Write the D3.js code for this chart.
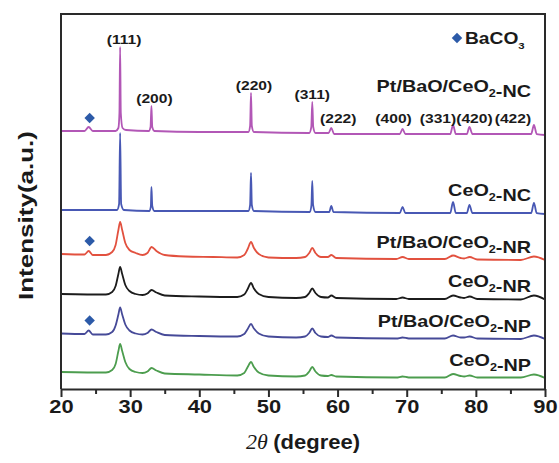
<!DOCTYPE html>
<html>
<head>
<meta charset="utf-8">
<script src="https://cdn.jsdelivr.net/npm/d3@7"></script>
<style>
    body { margin: 0; background: #fff; }
    text { font-family: "Liberation Sans", Arial, sans-serif; font-weight: bold; fill: #1a1a1a; }
</style>
</head>
<body>
<div id="chart"></div>
<script>
// peak positions (2theta) and reflection names
const hklNames = ["(111)", "(200)", "(220)", "(311)", "(222)", "(400)", "(331)", "(420)", "(422)"];
const hklAngles = [28.55, 33.08, 47.48, 56.34, 59.09, 69.4, 76.7, 79.07, 88.4];
const baco3Angle = 24.0;

const seriesNames = ["Pt/BaO/CeO2-NC", "CeO2-NC", "Pt/BaO/CeO2-NR", "CeO2-NR", "Pt/BaO/CeO2-NP", "CeO2-NP"];
const seriesColors = ["#b257b6", "#4858b4", "#e2513f", "#1c1c1c", "#464a98", "#4c9d4e"];
const seriesOffsets = [258, 179, 135, 95, 55.5, 17];
const hasBaCO3 = [true, false, true, false, true, false];

// [2theta, intensity above offset]
const ptNC = [[20,0],[23.4,0],[24.0,4],[24.6,0],[27.9,0],[28.3,3],[28.45,18],[28.55,84],[28.65,18],[28.9,3],[29.4,1],[32.7,0],[32.95,4],[33.08,25],[33.2,4],[33.5,0],[40,-1],[47.1,-1],[47.35,5],[47.48,38],[47.6,5],[47.9,-1],[55.9,-2],[56.2,4],[56.34,29],[56.48,4],[56.8,-2],[58.7,-2],[59.09,3],[59.5,-3],[69.0,-3],[69.4,2],[69.8,-3],[76.3,-3],[76.7,6],[77.1,-3],[78.7,-3],[79.07,4],[79.5,-3],[88.0,-3],[88.4,6],[88.8,-3],[90,-4]];
const ceNC = [[20,0],[28.1,0],[28.4,6],[28.55,77],[28.7,6],[29.1,0],[32.8,-1],[33.0,4],[33.08,23],[33.2,4],[33.5,-1],[47.1,-1],[47.35,5],[47.48,37],[47.6,5],[47.9,-1],[56.0,-2],[56.22,5],[56.34,29],[56.46,5],[56.8,-2],[58.8,-2],[59.09,4],[59.4,-2],[69.0,-3],[69.4,3],[69.8,-3],[76.3,-3],[76.7,8],[77.1,-3],[78.7,-3],[79.07,5],[79.5,-3],[88.0,-3],[88.4,7],[88.8,-3],[90,-4]];
const ptNR = [[20,0],[23.4,-0.5],[24.0,3],[24.6,-1],[26.5,-1],[27.4,2],[27.9,9],[28.3,24],[28.55,32],[28.85,24],[29.3,11],[29.9,4],[30.8,1],[31.8,-1],[32.5,1],[33.1,7],[33.8,3],[35,-1],[38,-2.5],[42,-3],[45.5,-3.5],[46.5,-1],[47.0,5],[47.48,12],[47.9,6],[48.6,0],[50,-3.5],[54,-4],[55.3,-3],[55.9,1],[56.34,6],[56.8,1],[57.6,-3],[58.6,-3],[59.1,-1],[59.8,-4],[68.5,-5],[69.4,-3],[70.3,-5],[75.5,-5],[76.7,-1.5],[77.8,-4],[78.3,-4.5],[79.1,-3],[80.2,-5.5],[86.5,-6],[88.4,-2.5],[90,-6]];
const ceNR = [[20,0],[26.5,-0.5],[27.4,2],[27.9,8],[28.3,20],[28.55,27],[28.85,20],[29.3,9],[29.9,3],[30.8,0],[31.8,-1],[32.5,0.5],[33.1,4],[33.8,1.5],[35,-1.5],[40,-2.5],[45.5,-3],[46.5,-0.5],[47.0,5],[47.48,11],[47.9,5.5],[48.6,0],[50,-3],[54,-4],[55.3,-3],[55.9,1],[56.34,5.5],[56.8,1],[57.6,-3],[58.6,-3.5],[59.1,-1.5],[59.8,-4],[68.5,-5],[69.4,-3.5],[70.3,-5],[75.5,-5],[76.7,-1.5],[77.8,-3.5],[78.3,-4],[79.1,-2.5],[80.2,-5],[86.5,-5.5],[88.4,-1.5],[90,-5.5]];
const ptNP = [[20,0],[23.4,-0.5],[24.0,3],[24.6,-1],[26.5,-1],[27.4,1.5],[27.9,8],[28.3,19],[28.55,26],[28.85,19],[29.3,9],[29.9,3],[30.8,0],[31.8,-1],[32.5,0.5],[33.1,4],[33.8,1.5],[35,-1.5],[40,-2.5],[45.5,-3],[46.5,-0.5],[47.0,4.5],[47.48,9.5],[47.9,5],[48.6,0],[50,-3],[54,-4],[55.3,-3],[55.9,0.5],[56.34,5],[56.8,0.5],[57.6,-3],[58.6,-3.5],[59.1,-2],[59.8,-4],[68.5,-5],[69.4,-4],[70.3,-5],[75.5,-5],[76.7,-2],[77.8,-4],[78.3,-4],[79.1,-3],[80.2,-5],[86.5,-5.5],[88.4,-2],[90,-5.5]];
const ceNP = [[20,0],[26.5,-0.5],[27.4,2],[27.9,8],[28.3,21],[28.55,28],[28.85,21],[29.3,10],[29.9,3],[30.8,0],[31.8,-1],[32.5,0.5],[33.1,4],[33.8,1.5],[35,-1.5],[40,-2.5],[45.5,-3.5],[46.5,-1],[47.0,5],[47.48,10],[47.9,5],[48.6,-0.5],[50,-3.5],[54,-4.5],[55.3,-3.5],[55.9,0.5],[56.34,5],[56.8,0.5],[57.6,-3.5],[58.6,-4],[59.1,-3],[59.8,-4.5],[68.5,-5.5],[69.4,-4.5],[70.3,-5.5],[75.5,-5.5],[76.7,-2],[77.8,-4],[78.3,-4.5],[79.1,-3.5],[80.2,-5.5],[86.5,-5.5],[88.4,-2.5],[90,-6]];
const seriesData = [ptNC, ceNC, ptNR, ceNR, ptNP, ceNP];

const xMajor = [20, 30, 40, 50, 60, 70, 80, 90];
const xMinor = [25, 35, 45, 55, 65, 75, 85];

// dimensions
const W = 559, H = 463;
const margin = {top: 14, right: 14, bottom: 74, left: 61};
const width = W - margin.left - margin.right;
const height = H - margin.top - margin.bottom;
const SX = 1.2; // the figure's lettering is wider than Arial

const svg = d3.select("#chart").append("svg")
    .attr("width", W)
    .attr("height", H);

const g = svg.append("g")
    .attr("transform", `translate(${margin.left},${margin.top})`);

const x = d3.scaleLinear().domain([20, 90]).range([0, width]);
const y = d3.scaleLinear().domain([0, height]).range([height, 0]);

// helper for text with a subscript "2"/"3"
function richText(sel, str, size, subSize) {
    let parts = str.split(/(O2|O3)/).filter(s => s.length);
    parts.forEach(p => {
        if (p === "O2" || p === "O3") {
            sel.append("tspan").text("O");
            sel.append("tspan").text(p[1]).attr("font-size", subSize).attr("dy", size * 0.3);
            sel.append("tspan").text("").attr("dy", -size * 0.3);
        } else {
            sel.append("tspan").text(p);
        }
    });
}

// curves
const line = d3.line()
    .x(d => x(d[0]))
    .curve(d3.curveMonotoneX);

seriesData.forEach((data, i) => {
    g.append("path")
        .datum(data)
        .attr("fill", "none")
        .attr("stroke", seriesColors[i])
        .attr("stroke-width", 1.8)
        .attr("stroke-linejoin", "round")
        .attr("d", line.y(d => y(seriesOffsets[i] + d[1])));
});

// BaCO3 markers
const diamond = d3.symbol().type(d3.symbolDiamond2 || d3.symbolDiamond).size(70);
seriesData.forEach((data, i) => {
    if (!hasBaCO3[i]) return;
    g.append("path")
        .attr("d", diamond)
        .attr("fill", "#2c5aa8")
        .attr("transform", `translate(${x(baco3Angle) + 1},${y(seriesOffsets[i] + 13)})`);
});

// hkl labels over the top pattern
const hklDx = [4, 3, 3, 0, 7, -9, -15, 5, -21];
hklNames.forEach((name, i) => {
    let peak = d3.max(ptNC.filter(d => Math.abs(d[0] - hklAngles[i]) < 0.3), d => d[1]);
    let yy = y(seriesOffsets[0] + peak) - 3;
    if (i >= 4) yy = y(seriesOffsets[0] + 3) - 5;
    g.append("text")
        .attr("transform", `translate(${x(hklAngles[i]) + hklDx[i]},${yy}) scale(${SX},1)`)
        .attr("text-anchor", "middle")
        .attr("font-size", 13)
        .text(name);
});

// series labels
const labelY = [78, 182, 234, 273, 313, 352];
seriesNames.forEach((name, i) => {
    let t = g.append("text")
        .attr("transform", `translate(${width - 14},${labelY[i]}) scale(${SX},1)`)
        .attr("text-anchor", "end")
        .attr("font-size", 16.5);
    richText(t, name, 16.5, 10.5);
});

// legend
g.append("path")
    .attr("d", diamond)
    .attr("fill", "#2c5aa8")
    .attr("transform", `translate(${width - 88},${24})`);
let leg = g.append("text")
    .attr("transform", `translate(${width - 80},${30}) scale(${SX},1)`)
    .attr("font-size", 16);
richText(leg, "BaCO3", 16, 9.5);

// axes
const xAxis = g.append("g")
    .attr("transform", `translate(0,${height})`)
    .call(d3.axisBottom(x).tickValues(xMajor).tickSize(8).tickSizeOuter(0).tickPadding(3));
xAxis.selectAll("text")
    .attr("font-size", 19)
    .attr("transform", `scale(1.15,1)`)
    .style("font-family", "Liberation Sans, Arial, sans-serif")
    .style("font-weight", "bold")
    .attr("fill", "#1a1a1a");
g.append("g")
    .attr("transform", `translate(0,${height})`)
    .call(d3.axisBottom(x).tickValues(xMinor).tickSize(5).tickFormat(""))
    .select(".domain").remove();

g.selectAll(".domain, .tick line")
    .attr("stroke", "#2a2a2a")
    .attr("stroke-width", 2);

// frame (left, top, right)
g.append("path")
    .attr("d", `M0,${height}V0H${width}V${height}`)
    .attr("fill", "none")
    .attr("stroke", "#2a2a2a")
    .attr("stroke-width", 2);

// axis titles
g.append("text")
    .attr("transform", `translate(${-margin.left + 33},${height / 2 + 14}) rotate(-90) scale(1.3,1)`)
    .attr("text-anchor", "middle")
    .attr("font-size", 20)
    .text("Intensity(a.u.)");

let xt = g.append("text")
    .attr("transform", `translate(${width / 2},${height + 60}) scale(1.1,1)`)
    .attr("text-anchor", "middle")
    .attr("font-size", 20);
xt.append("tspan")
    .style("font-family", "Liberation Serif, Times New Roman, serif")
    .style("font-style", "italic")
    .style("font-weight", "normal")
    .text("2θ ");
xt.append("tspan").text("(degree)");
</script>
</body>
</html>
